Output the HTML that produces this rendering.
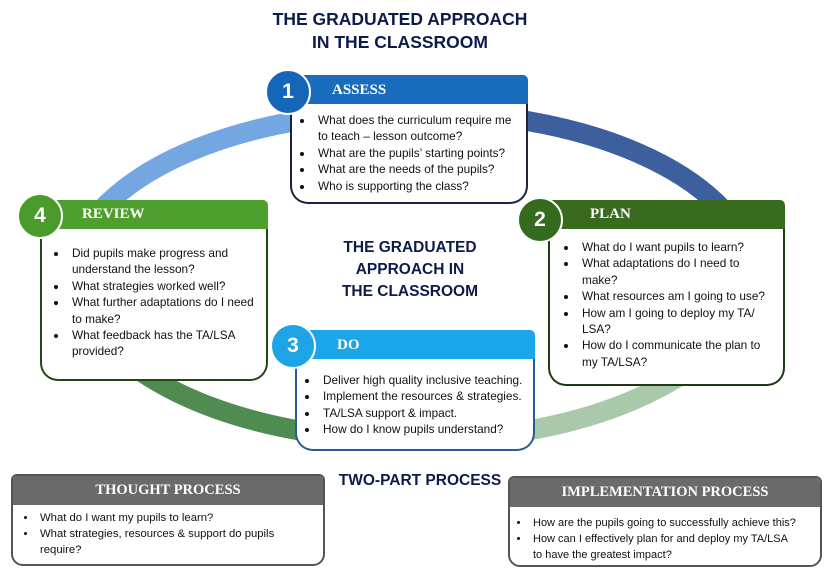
<!DOCTYPE html>
<html><head><meta charset="utf-8"><style>
body{margin:0;width:827px;height:571px;background:#fff;position:relative;overflow:hidden;font-family:"Liberation Sans",sans-serif}
.a{position:absolute}
.t{color:#0d1b4a;font-weight:bold;text-align:center}
.hd{position:absolute;color:#fff;font-family:"Liberation Serif",serif;font-weight:bold;font-size:15px;border-radius:5px 5px 0 0;box-sizing:border-box}
.bd{position:absolute;background:#fff;border:2px solid;border-top:none;border-radius:0 0 18px 18px;box-sizing:border-box}
.bd ul{margin:0;padding:0 4px 0 26px;font-size:11.8px;line-height:16.4px;color:#111}
.bd li{padding-left:4px}
.c{position:absolute;width:42px;height:42px;border-radius:50%;border:2px solid #fff;color:#fff;font-weight:bold;font-size:21px;text-align:center;line-height:42px;box-sizing:content-box}
.g{position:absolute;border:2px solid #555;border-radius:6px 6px 12px 12px;background:#fff;box-sizing:border-box;overflow:hidden}
.g .h{background:#6a6a6a;color:#fff;font-family:"Liberation Serif",serif;font-weight:bold;font-size:14.5px;text-align:center;height:29px;line-height:29px}
.g ul{margin:5px 0 0;padding-left:24px;font-size:11.3px;line-height:16px;color:#111}
.g li{padding-left:3px}
</style></head><body>
<svg class="a" style="left:0;top:0" width="827" height="571">
<g fill="none" stroke-width="20">
<path d="M80 240 A335 170 0 0 1 414 112" stroke="#74a6e2"/>
<path d="M414 112 A335 170 0 0 1 752 260" stroke="#3d5f9e"/>
<path d="M752 260 A335 170 0 0 1 414 440" stroke="#a9c9aa"/>
<path d="M414 440 A335 170 0 0 1 80 240" stroke="#508c52"/>
</g></svg>
<div class="a t" style="left:180px;top:8px;width:440px;font-size:17.5px;line-height:23px">THE GRADUATED APPROACH<br>IN THE CLASSROOM</div>
<div class="a t" style="left:300px;top:237px;width:220px;font-size:15.5px;line-height:22px">THE GRADUATED<br>APPROACH IN<br>THE CLASSROOM</div>
<div class="a t" style="left:320px;top:472px;width:200px;font-size:15.5px">TWO-PART PROCESS</div>

<div class="hd" style="left:290px;top:75px;width:238px;height:29px;background:#1a6cbd;padding:7px 0 0 42px">ASSESS</div>
<div class="bd" style="left:290px;top:104px;width:238px;height:100px;border-color:#1b2340;padding-top:8px"><ul style="padding-left:22px;padding-right:0"><li>What does the curriculum require me<br>to teach – lesson outcome?</li><li>What are the pupils’ starting points?</li><li>What are the needs of the pupils?</li><li>Who is supporting the class?</li></ul></div>
<div class="c" style="left:265px;top:69px;background:#1565b8">1</div>

<div class="hd" style="left:545px;top:200px;width:240px;height:29px;background:#386b1e;padding:6px 0 0 45px">PLAN</div>
<div class="bd" style="left:548px;top:229px;width:237px;height:157px;border-color:#1f3a12;padding-top:10px"><ul style="padding-left:28px;padding-right:10px"><li>What do I want pupils to learn?</li><li>What adaptations do I need to make?</li><li>What resources am I going to use?</li><li>How am I going to deploy my TA/ LSA?</li><li>How do I communicate the plan to my TA/LSA?</li></ul></div>
<div class="c" style="left:517px;top:197px;background:#356b1f">2</div>

<div class="hd" style="left:42px;top:200px;width:226px;height:29px;background:#4f9f2f;padding:6px 0 0 40px">REVIEW</div>
<div class="bd" style="left:40px;top:229px;width:228px;height:152px;border-color:#1f4a12;padding-top:16px"><ul style="padding-left:26px;padding-right:8px"><li>Did pupils make progress and understand the lesson?</li><li>What strategies worked well?</li><li>What further adaptations do I need to make?</li><li>What feedback has the TA/LSA provided?</li></ul></div>
<div class="c" style="left:17px;top:193px;background:#4b9b2c">4</div>

<div class="hd" style="left:295px;top:330px;width:240px;height:29px;background:#1aa6e8;padding:7px 0 0 42px">DO</div>
<div class="bd" style="left:295px;top:359px;width:240px;height:92px;border-color:#2a5a9a;padding-top:13px"><ul style="padding-left:22px"><li>Deliver high quality inclusive teaching.</li><li>Implement the resources &amp; strategies.</li><li>TA/LSA support &amp; impact.</li><li>How do I know pupils understand?</li></ul></div>
<div class="c" style="left:270px;top:323px;background:#1ea3e6">3</div>

<div class="g" style="left:11px;top:474px;width:314px;height:92px"><div class="h">THOUGHT PROCESS</div><ul style="padding-right:20px"><li>What do I want my pupils to learn?</li><li>What strategies, resources &amp; support do pupils require?</li></ul></div>
<div class="g" style="left:508px;top:476px;width:314px;height:91px"><div class="h">IMPLEMENTATION PROCESS</div><ul style="margin-top:8px;padding-right:0;padding-left:20px;font-size:11px"><li>How are the pupils going to successfully achieve this?</li><li>How can I effectively plan for and deploy my TA/LSA<br>to have the greatest impact?</li></ul></div>
</body></html>
